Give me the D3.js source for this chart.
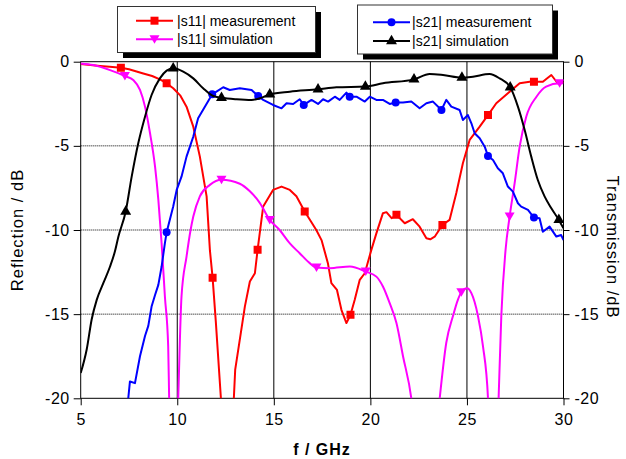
<!DOCTYPE html>
<html>
<head>
<meta charset="utf-8">
<script src="https://cdn.jsdelivr.net/npm/d3@7"></script>
<style>
  body { margin: 0; background: #fff; }
  svg { font-family: "Liberation Sans", Arial, sans-serif; }
</style>
</head>
<body>
<div id="chart"></div>
<script>
// frequency ticks and dB ticks
const fTicks = [5, 10, 15, 20, 25, 30];
const dbTicks = [0, -5, -10, -15, -20];

// |s11| measurement  [f GHz, dB]
const s11Meas = [[5,-0.14],[5.5,-0.2],[6,-0.25],[6.5,-0.3],[7.08,-0.36],[7.5,-0.45],[8.24,-0.7],[8.7,-0.85],[9.1,-1.05],[9.45,-1.28],[9.79,-1.58],[10.15,-2.0],[10.48,-2.67],[10.83,-3.86],[11.17,-5.64],[11.52,-8.0],[11.69,-11.2],[11.83,-12.83],[12.0,-15.5],[12.26,-20],[12.6,-26],[12.93,-20],[13.0,-18.3],[13.5,-14.55],[13.76,-13.06],[14.02,-12.57],[14.16,-11.18],[14.45,-8.6],[14.96,-7.62],[15.4,-7.42],[15.83,-7.62],[16.17,-8.0],[16.6,-8.9],[17.2,-10.0],[17.47,-10.6],[17.8,-11.97],[17.98,-13.16],[18.27,-13.56],[18.5,-14.74],[18.76,-15.53],[18.97,-15.04],[19.19,-14.15],[19.45,-12.96],[19.71,-12.57],[20.05,-11.18],[20.31,-10.2],[20.65,-9.0],[20.83,-8.94],[21.1,-9.3],[21.35,-9.1],[21.78,-9.6],[22.2,-9.36],[22.55,-9.8],[22.9,-10.49],[23.1,-10.55],[23.33,-10.4],[23.73,-9.7],[24.1,-9.4],[24.45,-7.8],[24.79,-6.03],[25.14,-4.65],[25.66,-3.86],[26.09,-3.17],[26.52,-2.47],[27.21,-1.78],[27.73,-1.28],[28.25,-1.19],[28.47,-1.19],[28.93,-1.19],[29.37,-0.79],[29.7,-1.28],[30,-1.19]];
const s11MeasMarks = [[7.08,-0.36],[9.45,-1.28],[11.83,-12.83],[14.16,-11.18],[16.6,-8.9],[18.97,-15.04],[21.35,-9.1],[23.73,-9.7],[26.09,-3.17],[28.47,-1.19]];

// |s11| simulation
const s11Sim = [[5,-0.1],[5.65,-0.2],[6.52,-0.5],[7.29,-0.85],[7.72,-1.09],[8.07,-1.68],[8.33,-2.67],[8.59,-4.25],[8.85,-6.24],[9.02,-8.2],[9.19,-10.8],[9.36,-13.95],[9.53,-16.9],[9.58,-20],[9.8,-30],[10.05,-20],[10.22,-13.95],[10.48,-11.58],[10.69,-10],[10.83,-9.2],[11.17,-8.0],[11.69,-7.32],[12.29,-7.02],[13.24,-7.25],[13.76,-7.7],[14.28,-8.4],[14.79,-9.4],[15.3,-10.0],[15.83,-10.8],[16.34,-11.38],[16.86,-11.97],[17.21,-12.23],[17.9,-12.27],[18.94,-12.17],[19.76,-12.47],[20.31,-12.77],[20.65,-13.36],[21.0,-14.35],[21.35,-15.53],[21.69,-17.5],[22.12,-20],[22.85,-30],[23.59,-20],[23.93,-16.7],[24.28,-15.1],[24.53,-14.15],[24.71,-13.7],[25.0,-13.46],[25.23,-13.75],[25.57,-15.1],[25.83,-16.9],[26.09,-20],[26.35,-30],[26.64,-20],[26.78,-15.1],[27.0,-11.18],[27.21,-9.2],[27.47,-7.22],[27.73,-5.05],[28.07,-3.27],[28.6,-2.08],[29.1,-1.48],[29.8,-1.28],[30,-1.28]];
const s11SimMarks = [[7.29,-0.85],[12.29,-7.02],[14.79,-9.4],[17.21,-12.23],[19.76,-12.47],[24.71,-13.7],[27.21,-9.2],[29.8,-1.28]];

// |s21| measurement
const s21Meas = [[7.42,-20.5],[7.55,-19.0],[7.81,-19.1],[8.07,-17.5],[8.33,-16.3],[8.5,-15.7],[8.67,-14.55],[8.85,-13.86],[9.02,-13.26],[9.19,-12.17],[9.36,-10.78],[9.45,-10.14],[9.79,-8.6],[9.97,-7.62],[10.22,-6.83],[10.48,-5.64],[10.83,-4.45],[11.08,-3.36],[11.43,-2.67],[11.81,-1.94],[12.03,-1.78],[12.38,-1.52],[12.72,-1.68],[13.24,-1.58],[13.85,-1.68],[14.19,-2.04],[14.45,-2.27],[14.96,-2.57],[15.4,-2.77],[15.66,-2.47],[16.0,-2.51],[16.34,-2.23],[16.55,-2.57],[16.95,-2.27],[17.29,-2.51],[17.55,-2.23],[17.81,-2.37],[18.16,-2.08],[18.41,-2.27],[18.76,-1.84],[18.93,-2.08],[19.28,-2.08],[19.71,-2.37],[19.97,-2.08],[20.31,-2.27],[20.65,-2.27],[21.0,-2.51],[21.31,-2.43],[21.69,-2.43],[22.12,-2.37],[22.55,-2.77],[22.9,-2.47],[23.24,-2.37],[23.68,-2.87],[23.93,-2.27],[24.19,-2.67],[24.62,-2.87],[24.79,-3.46],[25.05,-3.17],[25.23,-3.66],[25.4,-4.25],[25.66,-4.55],[25.92,-5.05],[26.09,-5.6],[26.35,-5.84],[26.6,-6.33],[26.86,-6.63],[27.12,-7.42],[27.38,-7.72],[27.64,-8.41],[27.81,-8.61],[28.16,-8.8],[28.47,-9.26],[28.76,-9.3],[28.93,-10.1],[29.28,-9.8],[29.63,-10.39],[29.88,-10.3],[30,-10.6]];
const s21MeasMarks = [[9.45,-10.14],[11.81,-1.94],[14.19,-2.04],[16.55,-2.57],[18.93,-2.08],[21.31,-2.43],[23.68,-2.87],[26.09,-5.6],[28.47,-9.26]];

// |s21| simulation
const s21Sim = [[5,-18.5],[5.31,-17.1],[5.57,-15.3],[5.83,-14.15],[6.17,-13.16],[6.52,-12.17],[6.77,-11.28],[6.95,-10.4],[7.33,-8.9],[7.64,-6.83],[7.98,-4.85],[8.33,-3.27],[8.67,-1.98],[9.1,-0.99],[9.45,-0.53],[9.79,-0.39],[10.31,-0.59],[10.83,-0.99],[11.34,-1.58],[11.86,-2.04],[12.29,-2.14],[13.07,-2.23],[13.85,-2.27],[14.28,-2.17],[14.79,-1.94],[15.83,-1.78],[17.29,-1.64],[18.24,-1.52],[19.74,-1.48],[20.65,-1.28],[22.26,-1.05],[23.07,-0.73],[23.76,-0.79],[24.74,-0.95],[25.31,-0.89],[26.17,-0.73],[26.69,-0.99],[27.24,-1.52],[27.64,-2.67],[27.99,-4.06],[28.33,-5.64],[28.67,-7.03],[29.02,-8.0],[29.37,-8.71],[29.76,-9.4],[30,-9.9]];
const s21SimMarks = [[7.33,-8.9],[9.79,-0.39],[12.29,-2.14],[14.79,-1.94],[17.29,-1.64],[19.74,-1.48],[22.26,-1.05],[24.74,-0.95],[27.24,-1.52],[29.76,-9.4]];

const width = 626, height = 459;
const plot = {left: 80.7, right: 563.5, top: 61.7, bottom: 398.3};

const svg = d3.select("#chart")
  .append("svg")
    .attr("width", width)
    .attr("height", height)
    .attr("viewBox", [0, 0, width, height]);

const xScale = d3.scaleLinear().domain([5, 30]).range([plot.left, plot.right]);
const yScale = d3.scaleLinear().domain([-20, 0]).range([plot.bottom, plot.top]);

svg.append("clipPath").attr("id", "clip")
  .append("rect")
    .attr("x", plot.left).attr("y", plot.top)
    .attr("width", plot.right - plot.left).attr("height", plot.bottom - plot.top);

// grid: dotted horizontals, solid verticals
svg.append("g")
  .selectAll("line")
  .data(dbTicks.filter(d => d !== 0 && d !== -20))
  .join("line")
    .attr("x1", plot.left).attr("x2", plot.right)
    .attr("y1", d => yScale(d)).attr("y2", d => yScale(d))
    .attr("stroke", "#000").attr("stroke-width", 1)
    .attr("stroke-dasharray", "1,1");

svg.append("g")
  .selectAll("line")
  .data(fTicks.filter(d => d !== 5 && d !== 30))
  .join("line")
    .attr("x1", d => xScale(d)).attr("x2", d => xScale(d))
    .attr("y1", plot.top).attr("y2", plot.bottom)
    .attr("stroke", "#000").attr("stroke-width", 1);

// frame
svg.append("rect")
  .attr("x", plot.left).attr("y", plot.top)
  .attr("width", plot.right - plot.left).attr("height", plot.bottom - plot.top)
  .attr("fill", "none").attr("stroke", "#000").attr("stroke-width", 1);

// axes
const fmt = d => String(d);
const xAxis = svg.append("g")
  .attr("transform", `translate(0, ${plot.bottom})`)
  .call(d3.axisBottom(xScale).tickValues(fTicks).tickFormat(fmt).tickSize(7).tickPadding(8));
const yLeft = svg.append("g")
  .attr("transform", `translate(${plot.left}, 0)`)
  .call(d3.axisLeft(yScale).tickValues(dbTicks).tickFormat(fmt).tickSize(7).tickPadding(4));
const yRight = svg.append("g")
  .attr("transform", `translate(${plot.right}, 0)`)
  .call(d3.axisRight(yScale).tickValues(dbTicks).tickFormat(fmt).tickSize(6).tickPadding(5));

[xAxis, yLeft, yRight].forEach(g => {
  g.select(".domain").remove();
  g.selectAll("line").attr("stroke", "#000");
  g.selectAll("text")
    .attr("fill", "#000")
    .style("font-size", "16px")
    .style("letter-spacing", "0.5px")
    .style("font-family", '"Liberation Sans", Arial, sans-serif');
});

// axis titles
svg.append("text")
  .attr("transform", "translate(23, 230) rotate(-90)")
  .attr("text-anchor", "middle")
  .style("font-size", "16.5px").style("letter-spacing", "1px")
  .text("Reflection / dB");

svg.append("text")
  .attr("transform", "translate(607, 247) rotate(90)")
  .attr("text-anchor", "middle")
  .style("font-size", "16.5px").style("letter-spacing", "1px")
  .text("Transmission /dB");

svg.append("text")
  .attr("x", 322).attr("y", 455)
  .attr("text-anchor", "middle")
  .style("font-size", "16px").style("font-weight", "bold").style("letter-spacing", "1px")
  .text("f / GHz");

// series
const series = [
  {name: "|s11| measurement", data: s11Meas, marks: s11MeasMarks, color: "#ff0000", shape: "square", curve: d3.curveLinear},
  {name: "|s11| simulation", data: s11Sim, marks: s11SimMarks, color: "#ff00ff", shape: "down", curve: d3.curveMonotoneX},
  {name: "|s21| measurement", data: s21Meas, marks: s21MeasMarks, color: "#0000ff", shape: "circle", curve: d3.curveLinear},
  {name: "|s21| simulation", data: s21Sim, marks: s21SimMarks, color: "#000000", shape: "up", curve: d3.curveMonotoneX}
];

const symbolPath = shape => {
  if (shape === "square") return d3.symbol(d3.symbolSquare, 64)();
  if (shape === "circle") return d3.symbol(d3.symbolCircle, 50)();
  if (shape === "up") return d3.symbol(d3.symbolTriangle, 52)();
  return "M0,4.5L-5,-4L5,-4Z"; // down triangle
};

const plotG = svg.append("g").attr("clip-path", "url(#clip)");

series.forEach(s => {
  const line = d3.line()
    .curve(s.curve)
    .x(d => xScale(d[0]))
    .y(d => yScale(d[1]));

  plotG.append("path")
    .attr("d", line(s.data))
    .attr("fill", "none")
    .attr("stroke", s.color)
    .attr("stroke-width", 2)
    .attr("stroke-linejoin", "round");

  plotG.append("g")
    .selectAll("path")
    .data(s.marks)
    .join("path")
      .attr("transform", d => `translate(${xScale(d[0])}, ${yScale(d[1])})`)
      .attr("d", symbolPath(s.shape))
      .attr("fill", s.color);
});

// legends with drop shadow
const legends = [
  {x: 117, y: 6, w: 198, h: 46, items: [series[0], series[1]], lineX: [136, 173], textX: 177, rows: [20.7, 39.3]},
  {x: 357, y: 4.5, w: 195, h: 49, items: [series[2], series[3]], lineX: [373, 410], textX: 412, rows: [22.3, 41]}
];

legends.forEach(lg => {
  const g = svg.append("g");
  g.append("rect")
    .attr("x", lg.x + 6).attr("y", lg.y + 6)
    .attr("width", lg.w).attr("height", lg.h)
    .attr("fill", "#000");
  g.append("rect")
    .attr("x", lg.x + 0.5).attr("y", lg.y + 0.5)
    .attr("width", lg.w).attr("height", lg.h)
    .attr("fill", "#fff").attr("stroke", "#333").attr("stroke-width", 1);

  lg.items.forEach((s, i) => {
    const cy = lg.rows[i];
    g.append("line")
      .attr("x1", lg.lineX[0]).attr("x2", lg.lineX[1])
      .attr("y1", cy).attr("y2", cy)
      .attr("stroke", s.color).attr("stroke-width", 2);
    g.append("path")
      .attr("transform", `translate(${(lg.lineX[0] + lg.lineX[1]) / 2}, ${cy})`)
      .attr("d", symbolPath(s.shape))
      .attr("fill", s.color);
    g.append("text")
      .attr("x", lg.textX).attr("y", cy + 5)
      .style("font-size", "14px")
      .text(s.name);
  });
});
</script>
</body>
</html>
